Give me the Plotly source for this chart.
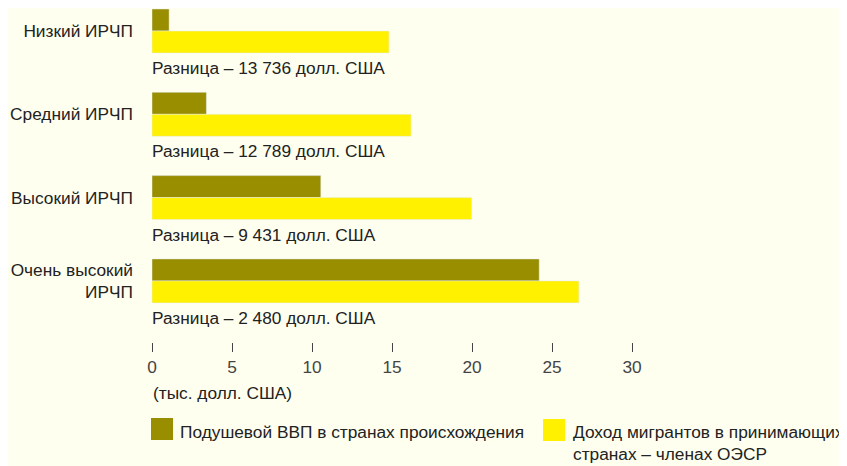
import plotly.graph_objects as go

categories = ["Низкий ИРЧП", "Средний ИРЧП", "Высокий ИРЧП", "Очень высокий<br>ИРЧП"]
gdp_origin = [1.07, 3.4, 10.55, 24.2]
migrant_income = [14.81, 16.19, 19.98, 26.68]
diff_labels = ["Разница – 13 736 долл. США", "Разница – 12 789 долл. США",
               "Разница – 9 431 долл. США", "Разница – 2 480 долл. США"]
x_ticks = [0, 5, 10, 15, 20, 25, 30]
series_names = ["Подушевой ВВП в странах происхождения",
                "Доход мигрантов в принимающих<br>странах – членах ОЭСР"]

OLIVE = "#998D00"
YELLOW = "#FFF100"
BG = "#FFFFF0"
TXT = "#222222"
FONT = "Liberation Sans"
FS = 17.3

OFF = 8  # page body margin
W, H = 847 - OFF, 466 - OFF
# reference-pixel layout
REF_PLOT_LEFT = 152
REF_PLOT_TOP = 0
PLOT_W = 480
REF_PLOT_BOTTOM = 342

ML = REF_PLOT_LEFT - OFF
MT = 0
PLOT_H = REF_PLOT_BOTTOM - OFF
MB = H - PLOT_H
MR = W - ML - PLOT_W

step = 83.3
c0 = 31 - OFF
y_top = -c0 / step
y_bot = (PLOT_H - c0) / step
ypos = list(range(len(categories)))

def px_y(py):
    return 1 - (py - OFF) / PLOT_H

def px_x(px):
    return (px - REF_PLOT_LEFT) / PLOT_W

fig = go.Figure()
fig.add_trace(go.Bar(y=ypos, x=gdp_origin, orientation="h", marker_color=OLIVE,
                     name=series_names[0], showlegend=False))
fig.add_trace(go.Bar(y=ypos, x=migrant_income, orientation="h", marker_color=YELLOW,
                     name=series_names[1], showlegend=False))

annotations = []
for i, t in enumerate(diff_labels):
    annotations.append(dict(x=0, y=i, xref="x", yref="y", text=t, showarrow=False,
                            xanchor="left", yanchor="middle", yshift=-37, xshift=-2,
                            font=dict(size=FS, color=TXT, family=FONT)))

annotations.append(dict(x=px_x(151), y=px_y(393), xref="paper", yref="paper",
                        text="(тыс. долл. США)", showarrow=False, xanchor="left",
                        yanchor="middle", font=dict(size=FS, color=TXT, family=FONT)))

shapes = []
legend_items = [(151, 418, OLIVE, series_names[0], 178),
                (543, 419, YELLOW, series_names[1], 571)]
for sx, sy, col, name, tx in legend_items:
    shapes.append(dict(type="rect", xref="paper", yref="paper",
                       x0=px_x(sx), x1=px_x(sx + 22), y0=px_y(sy), y1=px_y(sy + 22),
                       fillcolor=col, line=dict(width=0)))
    annotations.append(dict(x=px_x(tx), y=px_y(420), xref="paper", yref="paper",
                            text=name, showarrow=False, xanchor="left", yanchor="top",
                            align="left", font=dict(size=FS, color=TXT, family=FONT)))

fig.update_layout(
    width=W, height=H,
    margin=dict(l=ML, r=MR, t=MT, b=MB, pad=0),
    paper_bgcolor=BG, plot_bgcolor=BG,
    barmode="group", bargap=0.472, bargroupgap=0,
    font=dict(family=FONT, size=FS, color=TXT),
    annotations=annotations, shapes=shapes,
    showlegend=False,
)
fig.update_xaxes(range=[0, 30], tickvals=x_ticks, showgrid=False, zeroline=False,
                 showline=False, ticks="outside", ticklen=9, tickwidth=1,
                 tickcolor="#444444", tickfont=dict(size=FS, color="#444444"))
fig.update_yaxes(range=[y_bot, y_top], tickvals=ypos, ticktext=categories,
                 showgrid=False, zeroline=False, showline=False, ticks="",
                 ticklabelstandoff=18, tickfont=dict(size=FS, color=TXT))

fig.write_html("out.html")
